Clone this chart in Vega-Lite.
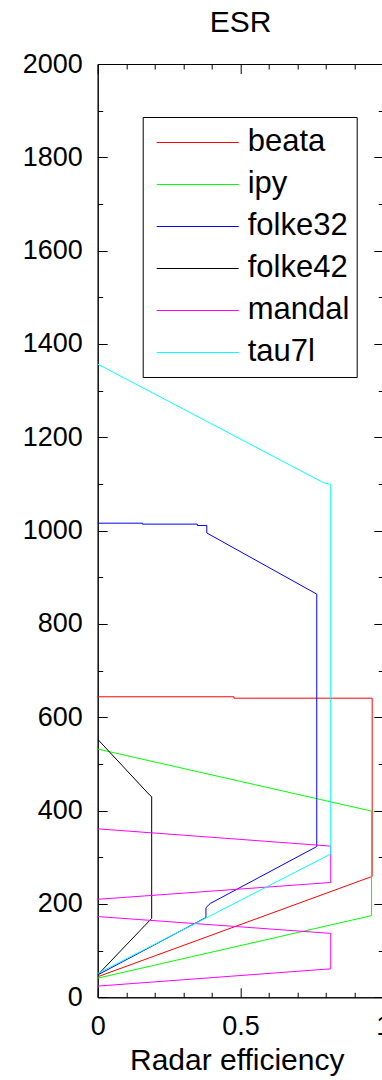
{
  "$schema": "https://vega.github.io/schema/vega-lite/v6.json",
  "width": 285.6,
  "height": 933.3,
  "autosize": "none",
  "padding": {"left": 97.7, "top": 64, "right": 0, "bottom": 83},
  "background": "white",
  "title": {"text": "ESR", "fontSize": 30, "font": "Liberation Sans", "fontWeight": "normal", "color": "black", "anchor": "middle", "frame": "group", "offset": 12},
  "config": {
    "view": {"stroke": null},
    "font": "Liberation Sans",
    "axis": {"domainColor": "black", "tickColor": "black", "domainWidth": 1, "tickWidth": 1, "grid": false, "labelFont": "Liberation Sans", "labelFontSize": 27, "labelColor": "black", "labelFlush": false, "labelOverlap": false, "titleFont": "Liberation Sans", "titleFontWeight": "normal", "titleColor": "black"}
  },
  "data": {"values": [
    {"series": "beata", "seg": "a", "ord": 1, "x": 0, "y": 44},
    {"series": "beata", "seg": "a", "ord": 2, "x": 0.961, "y": 259},
    {"series": "beata", "seg": "a", "ord": 3, "x": 0.961, "y": 641},
    {"series": "beata", "seg": "a", "ord": 4, "x": 0.477, "y": 641},
    {"series": "beata", "seg": "a", "ord": 5, "x": 0.477, "y": 644},
    {"series": "beata", "seg": "a", "ord": 6, "x": 0, "y": 644},
    {"series": "ipy", "seg": "a", "ord": 1, "x": 0, "y": 41},
    {"series": "ipy", "seg": "a", "ord": 2, "x": 0.959, "y": 175},
    {"series": "ipy", "seg": "a", "ord": 3, "x": 0.959, "y": 399},
    {"series": "ipy", "seg": "a", "ord": 4, "x": 0, "y": 532},
    {"series": "folke32", "seg": "a", "ord": 1, "x": 0, "y": 48},
    {"series": "folke32", "seg": "a", "ord": 2, "x": 0.379, "y": 171},
    {"series": "folke32", "seg": "a", "ord": 3, "x": 0.379, "y": 192},
    {"series": "folke32", "seg": "a", "ord": 4, "x": 0.394, "y": 201},
    {"series": "folke32", "seg": "a", "ord": 5, "x": 0.767, "y": 323},
    {"series": "folke32", "seg": "a", "ord": 6, "x": 0.767, "y": 864},
    {"series": "folke32", "seg": "a", "ord": 7, "x": 0.382, "y": 995},
    {"series": "folke32", "seg": "a", "ord": 8, "x": 0.382, "y": 1011},
    {"series": "folke32", "seg": "a", "ord": 9, "x": 0.349, "y": 1011},
    {"series": "folke32", "seg": "a", "ord": 10, "x": 0.349, "y": 1014},
    {"series": "folke32", "seg": "a", "ord": 11, "x": 0.157, "y": 1014},
    {"series": "folke32", "seg": "a", "ord": 12, "x": 0.157, "y": 1016},
    {"series": "folke32", "seg": "a", "ord": 13, "x": 0, "y": 1016},
    {"series": "folke42", "seg": "a", "ord": 1, "x": 0, "y": 48},
    {"series": "folke42", "seg": "a", "ord": 2, "x": 0.181, "y": 164},
    {"series": "folke42", "seg": "a", "ord": 3, "x": 0.189, "y": 169},
    {"series": "folke42", "seg": "a", "ord": 4, "x": 0.189, "y": 430},
    {"series": "folke42", "seg": "a", "ord": 5, "x": 0.181, "y": 434},
    {"series": "folke42", "seg": "a", "ord": 6, "x": 0, "y": 553},
    {"series": "mandal", "seg": "a", "ord": 1, "x": 0, "y": 24},
    {"series": "mandal", "seg": "a", "ord": 2, "x": 0.816, "y": 61},
    {"series": "mandal", "seg": "a", "ord": 3, "x": 0.816, "y": 137},
    {"series": "mandal", "seg": "a", "ord": 4, "x": 0, "y": 173},
    {"series": "mandal", "seg": "b", "ord": 5, "x": 0, "y": 210},
    {"series": "mandal", "seg": "b", "ord": 6, "x": 0.816, "y": 246},
    {"series": "mandal", "seg": "b", "ord": 7, "x": 0.816, "y": 324},
    {"series": "mandal", "seg": "b", "ord": 8, "x": 0, "y": 361},
    {"series": "tau7l", "seg": "a", "ord": 1, "x": 0, "y": 51},
    {"series": "tau7l", "seg": "a", "ord": 2, "x": 0.816, "y": 307},
    {"series": "tau7l", "seg": "a", "ord": 3, "x": 0.816, "y": 1099},
    {"series": "tau7l", "seg": "a", "ord": 4, "x": 0.79, "y": 1103},
    {"series": "tau7l", "seg": "a", "ord": 5, "x": 0, "y": 1357}
  ]},
  "layer": [
    {
      "mark": {"type": "line", "strokeWidth": 1, "clip": true},
      "encoding": {
        "x": {"field": "x", "type": "quantitative", "scale": {"domain": [0, 1], "nice": false, "zero": false},
              "axis": {"orient": "bottom", "values": [0, 0.5, 1], "format": "~g", "tickSize": -9.5, "labelPadding": 25.5, "title": "Radar efficiency", "titleFontSize": 30, "titleX": 139, "titleY": 72, "titleBaseline": "alphabetic"}},
        "y": {"field": "y", "type": "quantitative", "scale": {"domain": [0, 2000], "nice": false, "zero": false},
              "axis": {"orient": "left", "values": [0, 200, 400, 600, 800, 1000, 1200, 1400, 1600, 1800, 2000], "format": "d", "tickSize": -9.5, "labelPadding": 25, "title": null}},
        "color": {"field": "series", "type": "nominal",
                  "scale": {"domain": ["beata", "ipy", "folke32", "folke42", "mandal", "tau7l"], "range": ["#ff0000", "#00ff00", "#0000ff", "#000000", "#ff00ff", "#00ffff"]},
                  "legend": {"orient": "none", "legendX": 45, "legendY": 53, "title": null, "symbolType": "M-0.69,0.0238H3.214", "symbolSize": 1764, "symbolStrokeWidth": 1, "clipHeight": 36, "labelFont": "Liberation Sans", "labelFontSize": 31, "labelColor": "black", "labelOffset": 55, "labelLimit": 400, "strokeColor": "black", "fillColor": "white", "padding": 7, "rowPadding": 6}},
        "detail": {"field": "seg"},
        "order": {"field": "ord", "type": "quantitative"}
      }
    },
    {
      "mark": {"type": "point", "opacity": 0},
      "encoding": {
        "x": {"field": "x", "type": "quantitative", "axis": {"orient": "bottom", "values": [0.1, 0.2, 0.3, 0.4, 0.6, 0.7, 0.8, 0.9], "labels": false, "tickSize": -5, "title": null}},
        "y": {"field": "y", "type": "quantitative", "axis": {"orient": "left", "values": [100, 300, 500, 700, 900, 1100, 1300, 1500, 1700, 1900], "labels": false, "tickSize": -5, "title": null}}
      }
    },
    {
      "mark": {"type": "point", "opacity": 0},
      "encoding": {
        "x": {"field": "x", "type": "quantitative", "axis": {"orient": "top", "values": [0, 0.5, 1], "labels": false, "tickSize": -9.5, "title": null}},
        "y": {"field": "y", "type": "quantitative", "axis": {"orient": "right", "values": [0, 200, 400, 600, 800, 1000, 1200, 1400, 1600, 1800, 2000], "labels": false, "tickSize": -9.5, "title": null}}
      }
    },
    {
      "mark": {"type": "point", "opacity": 0},
      "encoding": {
        "x": {"field": "x", "type": "quantitative", "axis": {"orient": "top", "values": [0.1, 0.2, 0.3, 0.4, 0.6, 0.7, 0.8, 0.9], "labels": false, "tickSize": -5, "title": null}},
        "y": {"field": "y", "type": "quantitative", "axis": {"orient": "right", "values": [100, 300, 500, 700, 900, 1100, 1300, 1500, 1700, 1900], "labels": false, "tickSize": -5, "title": null}}
      }
    }
  ],
  "resolve": {"axis": {"x": "independent", "y": "independent"}}
}
